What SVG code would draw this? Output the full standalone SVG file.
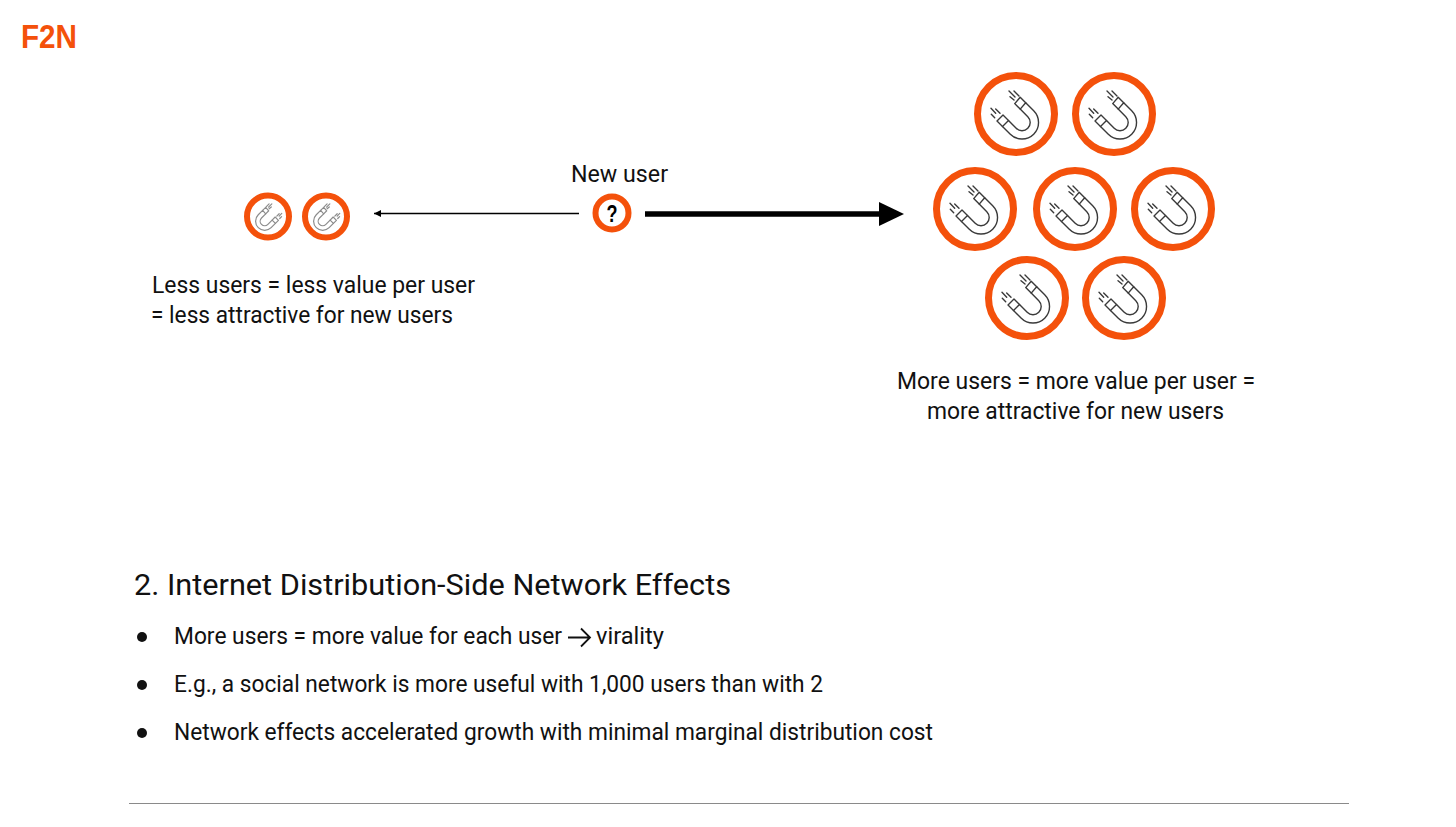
<svg xmlns="http://www.w3.org/2000/svg" width="1456" height="827" viewBox="0 0 1456 827">
<style>
text{font-family:Roboto,"Liberation Sans",sans-serif;fill:#111}
.t{font-size:23px}
.h{font-size:30px}
.ring{fill:#fff;stroke:#f4510b}
.big{stroke-width:7px}
.m{fill:none;stroke:#3a3a3a;stroke-width:1.4;stroke-linejoin:round;stroke-linecap:round}
.sm{stroke:#8c8c8c;stroke-width:2.2}
</style>
<defs>
<g id="magnet">
<path d="M9.700,-11.200L17.700,-3.200A16.500,16.500 0 0 1 -5.700,20.200L-13.500,12.500L-7.500,6.500L0.200,14.300A8.200,8.200 0 0 0 11.800,2.700L4.200,-4.900Z"/>
<path d="M4.200,-4.900L-1.300,-10.400L4.200,-16.700L9.700,-11.200M-7.500,6.500L-13,1L-19,7L-13.500,12.500"/>
<path d="M-7,-23L-1,-17M-2,-23L3,-18M-6,-17.300L-2,-14M-25,-5.700L-20.300,-0.700M-20.300,-5L-16,-0.700M-24.700,0.300L-21.300,3.700"/>
</g>
<marker id="thin" markerWidth="8" markerHeight="8" refX="7" refY="4" orient="auto" markerUnits="userSpaceOnUse"><path d="M0,0.500L7,4L0,7.500Z" fill="#000"/></marker>
</defs>
<text id="logo" x="21" y="48" style="font-family:'Liberation Sans',sans-serif;font-weight:700;font-size:34px;fill:#f4510b" textLength="56" lengthAdjust="spacingAndGlyphs">F2N</text>
<g id="connectors">
<line x1="579" y1="213.500" x2="374" y2="213.500" stroke="#000" stroke-width="1.400" marker-end="url(#thin)"/>
<line x1="645" y1="214" x2="882" y2="214" stroke="#000" stroke-width="5.500"/>
<path d="M879,202L904,214L879,226Z" fill="#000"/>
</g>
<g id="small-1"><circle class="ring" cx="268" cy="216.500" r="21" stroke-width="6"/><use href="#magnet" transform="translate(268,216.500) scale(-.55,.55)" class="m sm"/></g>
<g id="small-2"><circle class="ring" cx="326" cy="216.500" r="21" stroke-width="6"/><use href="#magnet" transform="translate(326,216.500) scale(-.55,.55)" class="m sm"/></g>
<g id="new-user"><circle class="ring" cx="612" cy="213" r="16.500" stroke-width="6"/><text x="612" y="221.500" text-anchor="middle" textLength="11" lengthAdjust="spacingAndGlyphs" style="font-family:'Liberation Sans',sans-serif;font-weight:700;font-size:24px;fill:#000">?</text></g>
<g id="big-1"><circle class="ring big" cx="1016" cy="114" r="38.500"/><use href="#magnet" transform="translate(1016,114)" class="m"/></g>
<g id="big-2"><circle class="ring big" cx="1114" cy="114" r="38.500"/><use href="#magnet" transform="translate(1114,114)" class="m"/></g>
<g id="big-3"><circle class="ring big" cx="975" cy="209" r="38.500"/><use href="#magnet" transform="translate(975,209)" class="m"/></g>
<g id="big-4"><circle class="ring big" cx="1075" cy="209" r="38.500"/><use href="#magnet" transform="translate(1075,209)" class="m"/></g>
<g id="big-5"><circle class="ring big" cx="1173" cy="209" r="38.500"/><use href="#magnet" transform="translate(1173,209)" class="m"/></g>
<g id="big-6"><circle class="ring big" cx="1027" cy="298" r="38.500"/><use href="#magnet" transform="translate(1027,298)" class="m"/></g>
<g id="big-7"><circle class="ring big" cx="1124" cy="298" r="38.500"/><use href="#magnet" transform="translate(1124,298)" class="m"/></g>
<text class="t" x="571" y="181.500" textLength="97" lengthAdjust="spacingAndGlyphs">New user</text>
<text class="t" x="152" y="292.500" textLength="323" lengthAdjust="spacingAndGlyphs">Less users = less value per user</text>
<text class="t" x="151" y="322.500" textLength="302" lengthAdjust="spacingAndGlyphs">= less attractive for new users</text>
<text class="t" x="897" y="389" textLength="358" lengthAdjust="spacingAndGlyphs">More users = more value per user =</text>
<text class="t" x="927" y="419" textLength="297" lengthAdjust="spacingAndGlyphs">more attractive for new users</text>
<text class="h" x="134" y="595" textLength="597" lengthAdjust="spacingAndGlyphs">2. Internet Distribution-Side Network Effects</text>
<circle cx="142" cy="637" r="5" fill="#111"/>
<circle cx="142" cy="685" r="5" fill="#111"/>
<circle cx="142" cy="733" r="5" fill="#111"/>
<text class="t" x="174" y="644" textLength="388" lengthAdjust="spacingAndGlyphs">More users = more value for each user</text>
<path d="M568,637.500H590M581,628.500L590,637.500L581,646.500" fill="none" stroke="#111" stroke-width="1.800"/>
<text class="t" x="596" y="644" textLength="68" lengthAdjust="spacingAndGlyphs">virality</text>
<text class="t" x="174" y="692" textLength="649" lengthAdjust="spacingAndGlyphs">E.g., a social network is more useful with 1,000 users than with 2</text>
<text class="t" x="174" y="740" textLength="759" lengthAdjust="spacingAndGlyphs">Network effects accelerated growth with minimal marginal distribution cost</text>
<line x1="129" y1="803.500" x2="1349" y2="803.500" stroke="#8a8a8a" stroke-width="1.200"/>
</svg>
